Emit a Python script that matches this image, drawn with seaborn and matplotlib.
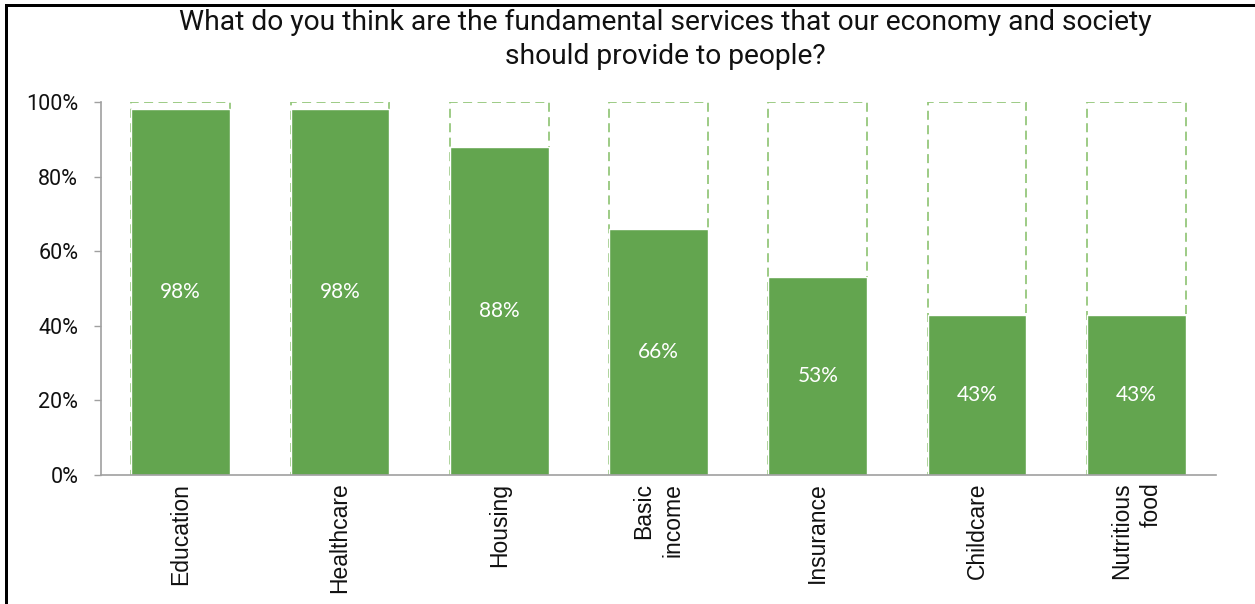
import matplotlib
matplotlib.use("Agg")
import matplotlib.pyplot as plt
from matplotlib.lines import Line2D
import seaborn as sns
import pandas as pd

# Survey answers: share of respondents naming each service
services = ["Education", "Healthcare", "Housing", "Basic\nincome",
            "Insurance", "Childcare", "Nutritious\nfood"]
shares = [98, 98, 88, 66, 53, 43, 43]
full_scale = [100, 100, 100, 100, 100, 100, 100]
y_ticks = [0, 20, 40, 60, 80, 100]
y_tick_labels = ["0%", "20%", "40%", "60%", "80%", "100%"]
title = ("What do you think are the fundamental services that our economy and society\n"
         "should provide to people?")

GREEN = "#63a54f"
OUTLINE = "#95c77c"

df = pd.DataFrame({"service": services, "share": shares, "full": full_scale})

sns.set_theme(style="white")
plt.rcParams["font.family"] = ["Roboto", "DejaVu Sans"]

fig = plt.figure(figsize=(12.55, 6.04), dpi=100)
ax = fig.add_axes([101 / 1255, 1 - 475 / 604, (1216 - 101) / 1255, (475 - 102) / 604])

# dashed 100% frames behind each bar
sns.barplot(data=df, x="service", y="full", ax=ax, color="white", width=0.62,
            saturation=1, errorbar=None)
n = len(services)
for p in ax.patches[:n]:
    p.set_facecolor("none")
    p.set_edgecolor(OUTLINE)
    p.set_linestyle((0, (5, 3)))
    p.set_linewidth(1.3)

# actual shares
sns.barplot(data=df, x="service", y="share", ax=ax, color=GREEN, width=0.62,
            saturation=1, errorbar=None)
for p in ax.patches[n:]:
    p.set_edgecolor("white")
    p.set_linewidth(1.0)

for p, v in zip(ax.patches[n:], shares):
    ax.text(p.get_x() + p.get_width() / 2, v / 2, f"{v}%", ha="center", va="center",
            color="white", fontsize=15, family=["Lato", "DejaVu Sans"])

ax.set_xlim(-0.5, n - 0.5)
ax.set_ylim(0, 100)
ax.set_yticks(y_ticks)
ax.set_yticklabels(y_tick_labels, fontsize=15.5, color="#111111")
ax.set_xlabel("")
ax.set_ylabel("")

ax.tick_params(axis="y", left=True, length=7.5 * 72 / 100, width=1, color="#a0a0a0", pad=11)
ax.tick_params(axis="x", bottom=False, length=0, pad=5.5)
for lab in ax.get_xticklabels():
    lab.set_rotation(90)
    lab.set_ha("center")
    lab.set_va("top")
    lab.set_multialignment("right")
    lab.set_fontsize(16.5)
    lab.set_linespacing(1.35)
    lab.set_family(["Liberation Sans", "DejaVu Sans"])
    lab.set_color("#111111")

for side in ["top", "right"]:
    ax.spines[side].set_visible(False)
for side in ["left", "bottom"]:
    ax.spines[side].set_color("#a0a0a0")
    ax.spines[side].set_linewidth(1.2)

fig.text(665 / 1255, 1 - 9 / 604, title, ha="center", va="top", fontsize=20.3,
         color="#111111", linespacing=1.32)

# black frame along the top and left edges
fig.add_artist(Line2D([6 / 1255, 6 / 1255], [0, 1 - 5 / 604], transform=fig.transFigure,
                      color="black", linewidth=3 * 72 / 100, solid_capstyle="projecting"))
fig.add_artist(Line2D([6 / 1255, 1], [1 - 5 / 604, 1 - 5 / 604], transform=fig.transFigure,
                      color="black", linewidth=3 * 72 / 100, solid_capstyle="projecting"))

fig.savefig("out.png", dpi=100, facecolor="white")
